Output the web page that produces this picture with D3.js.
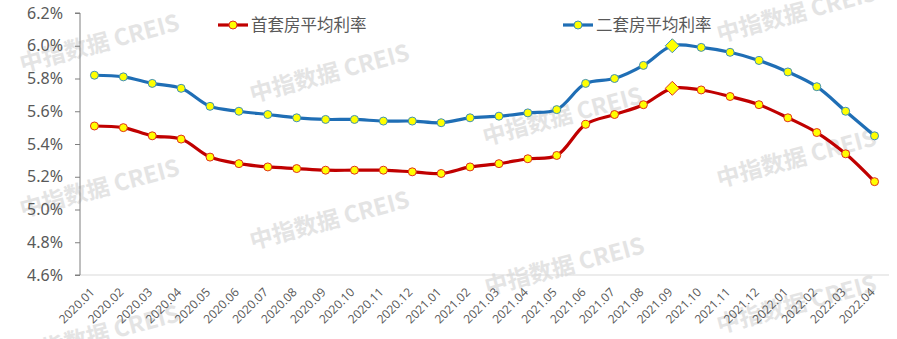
<!DOCTYPE html>
<html lang="zh">
<head>
  <meta charset="UTF-8">
  <title>首套房 / 二套房平均利率</title>
  <style>
    body { margin: 0; padding: 0; background: #fff; }
    #chart { width: 897px; height: 339px; }
    text { font-family: "Noto Sans CJK SC", "Noto Sans", Arial, sans-serif; }
  </style>
</head>
<body>
  <script src="https://cdn.jsdelivr.net/npm/d3@7"></script>
  <div id="chart"></div>
  <script>
    // months on the x axis
    var months = ["2020.01", "2020.02", "2020.03", "2020.04", "2020.05", "2020.06", "2020.07",
      "2020.08", "2020.09", "2020.10", "2020.11", "2020.12", "2021.01", "2021.02", "2021.03",
      "2021.04", "2021.05", "2021.06", "2021.07", "2021.08", "2021.09", "2021.10", "2021.11",
      "2021.12", "2022.01", "2022.02", "2022.03", "2022.04"];

    // first home average rate (%)
    var firstHome = [5.51, 5.50, 5.45, 5.43, 5.32, 5.28, 5.26, 5.25, 5.24, 5.24, 5.24, 5.23, 5.22, 5.26,
      5.28, 5.31, 5.33, 5.52, 5.58, 5.64, 5.74, 5.73, 5.69, 5.64, 5.56, 5.47, 5.34, 5.17];

    // second home average rate (%)
    var secondHome = [5.82, 5.81, 5.77, 5.74, 5.63, 5.60, 5.58, 5.56, 5.55, 5.55, 5.54, 5.54, 5.53, 5.56,
      5.57, 5.59, 5.61, 5.77, 5.80, 5.88, 6.00, 5.99, 5.96, 5.91, 5.84, 5.75, 5.60, 5.45];

    var yTicks = [4.6, 4.8, 5.0, 5.2, 5.4, 5.6, 5.8, 6.0, 6.2];
    var highlight = "2021.09";   // peak month drawn with a diamond

    var seriesNames = ["首套房平均利率", "二套房平均利率"];
    var seriesColors = ["#C00000", "#1F6EB5"];
    var markerStroke = ["#E0301E", "#3E8FB8"];

    var width = 897, height = 339;
    var plotLeft = 80, plotRight = 889, plotTop = 13, plotBottom = 275;

    var svg = d3.select("#chart").append("svg")
      .attr("width", width)
      .attr("height", height);

    // watermark
    var marks = [[100, 45], [330, 75], [563, 118], [797, 15],
      [100, 190], [330, 222], [565, 268], [797, 160],
      [100, 336], [797, 306]];
    svg.append("g").selectAll("text")
      .data(marks)
      .enter()
      .append("text")
      .attr("transform", d => "translate(" + d[0] + "," + d[1] + ") rotate(-15)")
      .attr("text-anchor", "middle")
      .attr("dominant-baseline", "middle")
      .style("font-size", "23px")
      .style("font-weight", "bold")
      .style("fill", "#e4e4e4")
      .text("中指数据 CREIS");

    var x = d3.scalePoint()
      .domain(months)
      .range([plotLeft, plotRight])
      .padding(0.5);

    var y = d3.scaleLinear()
      .domain([4.6, 6.2])
      .range([plotBottom, plotTop]);

    // x axis
    svg.append("line")
      .attr("x1", plotLeft).attr("x2", plotRight)
      .attr("y1", plotBottom).attr("y2", plotBottom)
      .attr("stroke", "#d9d9d9")
      .attr("stroke-width", 1);

    svg.append("g").selectAll("text")
      .data(months)
      .enter()
      .append("text")
      .attr("transform", d => "translate(" + (x(d) + 1) + "," + (plotBottom + 18) + ") rotate(-45)")
      .attr("text-anchor", "end")
      .style("font-size", "12px")
      .style("font-family", "\"Open Sans\", sans-serif")
      .style("fill", "#595959")
      .text(d => d);

    // y axis
    var yAxis = d3.axisLeft(y)
      .tickValues(yTicks)
      .tickSize(5)
      .tickPadding(12)
      .tickFormat(d => d.toFixed(1) + "%");

    var yg = svg.append("g")
      .attr("transform", "translate(" + plotLeft + ",0)")
      .call(yAxis);
    yg.select(".domain").attr("stroke", "#7f7f7f").attr("d", "M-5," + plotTop + "H0V" + plotBottom + "H-5");
    yg.selectAll(".tick line").attr("stroke", "#7f7f7f");
    yg.selectAll(".tick text")
      .style("font-size", "16px")
      .style("fill", "#595959")
      .style("font-family", "\"Noto Sans\", Arial, sans-serif");

    // lines
    var line = d3.line()
      .x((d, i) => x(months[i]))
      .y(d => y(d))
      .curve(d3.curveCatmullRom.alpha(0.5));

    [firstHome, secondHome].forEach(function (values, s) {
      var g = svg.append("g");
      g.append("path")
        .datum(values)
        .attr("fill", "none")
        .attr("stroke", seriesColors[s])
        .attr("stroke-width", 3.2)
        .attr("d", line);

      var pts = values.map((v, i) => ({ m: months[i], v: v }));
      g.selectAll("circle")
        .data(pts.filter(d => d.m !== highlight))
        .enter()
        .append("circle")
        .attr("cx", d => x(d.m))
        .attr("cy", d => y(d.v))
        .attr("r", 4)
        .attr("fill", "#FFFF00")
        .attr("stroke", markerStroke[s])
        .attr("stroke-width", 1);

      g.selectAll("path.peak")
        .data(pts.filter(d => d.m === highlight))
        .enter()
        .append("path")
        .attr("class", "peak")
        .attr("transform", d => "translate(" + x(d.m) + "," + y(d.v) + ")")
        .attr("d", "M0,-7L7,0L0,7L-7,0Z")
        .attr("fill", "#FFFF00")
        .attr("stroke", markerStroke[s])
        .attr("stroke-width", 1);
    });

    // legend
    var legendX = [218, 563];
    seriesNames.forEach(function (name, s) {
      var lg = svg.append("g").attr("transform", "translate(" + legendX[s] + ",25)");
      lg.append("line")
        .attr("x1", 0).attr("x2", 30)
        .attr("stroke", seriesColors[s])
        .attr("stroke-width", 3.2);
      lg.append("circle")
        .attr("cx", 15).attr("r", 4)
        .attr("fill", "#FFFF00")
        .attr("stroke", markerStroke[s]);
      lg.append("text")
        .attr("x", 33)
        .attr("dy", "0.35em")
        .style("font-size", "16.5px")
        .style("fill", "#595959")
        .text(name);
    });
  </script>
</body>
</html>
